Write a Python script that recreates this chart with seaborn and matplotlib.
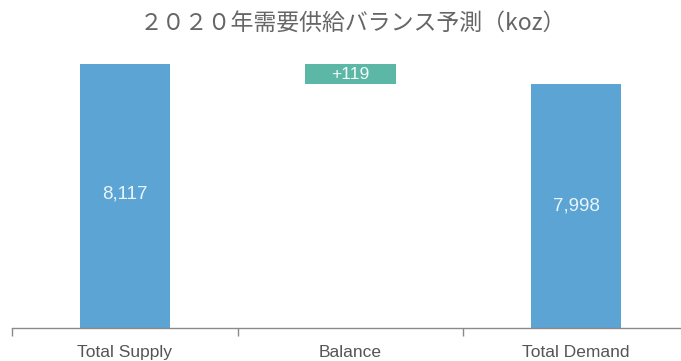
import matplotlib
matplotlib.use("Agg")
import matplotlib.pyplot as plt
import seaborn as sns
import pandas as pd

# Data (koz)
categories = ["Total Supply", "Balance", "Total Demand"]
supply = 8117
demand = 7998
balance = supply - demand
bar_labels = ["8,117", "+119", "7,998"]
title = "２０２０年需要供給バランス予測（koz）"

sns.set_theme(style="white")
plt.rcParams["font.family"] = ["Noto Sans CJK JP", "DejaVu Sans"]

W, H = 681, 361
fig = plt.figure(figsize=(W / 100, H / 100), dpi=100)
ax = fig.add_axes([12 / W, (H - 328) / H, 677 / W, 264 / H])

blue = "#5ba4d4"
teal = "#5db7a7"
latin = ["Liberation Sans", "DejaVu Sans"]

df = pd.DataFrame({"cat": [categories[0], categories[2]], "val": [supply, demand]})
sns.barplot(data=df, x="cat", y="val", order=categories, color=blue,
            saturation=1, width=0.40, ax=ax)
for p in ax.patches:
    p.set_linewidth(0)

# floating balance bar from demand up to supply
ax.bar(1, balance, bottom=demand, width=0.40, color=teal, linewidth=0)

base = 6552
ax.set_ylim(base, supply)
ax.set_xlim(-0.5, 2.5)

# value labels
lab_col = "#eaf5fb"
ax.text(0, (base + supply) / 2 + 10, bar_labels[0], ha="center", va="center",
        color=lab_col, fontsize=13.5, family=latin)
ax.text(2, (base + demand) / 2, bar_labels[2], ha="center", va="center",
        color=lab_col, fontsize=13.5, family=latin)
ax.text(1, demand + balance / 2, bar_labels[1], ha="center", va="center",
        color="#f4fbf9", fontsize=12.5, family=latin)

# axes styling
for s in ["top", "right", "left"]:
    ax.spines[s].set_visible(False)
ax.spines["bottom"].set_color("#8a8a8a")
ax.spines["bottom"].set_linewidth(1.0)
ax.set_yticks([])
ax.set_xlabel("")
ax.set_ylabel("")
ax.set_xticks([0, 1, 2])
ax.set_xticklabels(categories, color="#555555", fontsize=12.5, family=latin)
ax.tick_params(axis="x", which="major", length=0, pad=12)
ax.set_xticks([-0.5, 0.5, 1.5, 2.5], minor=True)
ax.tick_params(axis="x", which="minor", length=6, width=1.0, color="#8a8a8a",
               direction="out", bottom=True)

fig.text(353 / W, 1 - 23 / H, title, ha="center", va="center", fontsize=16.5,
         color="#666666")

fig.savefig("out.png", dpi=100)
